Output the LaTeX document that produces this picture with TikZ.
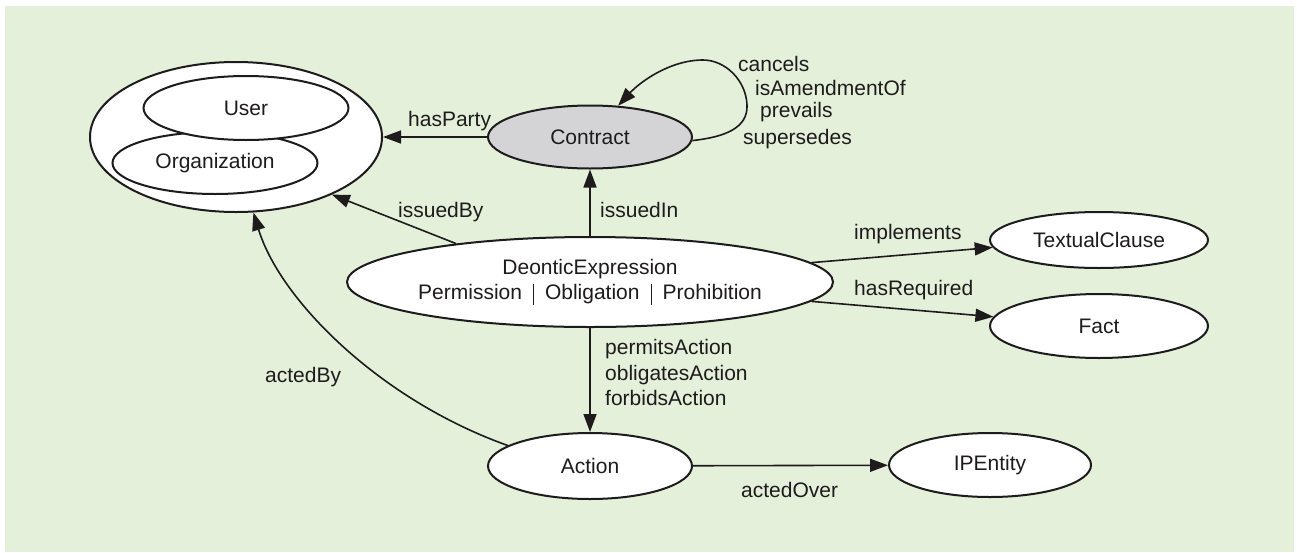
\documentclass[tikz,border=0pt]{standalone}
\usepackage{fontspec}
\setmainfont{Liberation Sans}
\usetikzlibrary{shapes.geometric,arrows.meta}
\definecolor{bgreen}{RGB}{228,240,218}
\definecolor{cgray}{RGB}{212,212,214}
\definecolor{ink}{RGB}{30,27,28}
\begin{document}
\begin{tikzpicture}[x=1pt,y=-1pt,
  font=\fontsize{21}{25}\selectfont, color=ink,
  ent/.style={ellipse, draw=ink, line width=2pt, fill=white, inner sep=0pt, text=ink, align=center},
  rel/.style={draw=ink, line width=1.6pt, -{Triangle[length=18pt,width=13pt]}},
  lbl/.style={inner sep=0pt, anchor=base west, text=ink, align=left}]
\useasboundingbox (0,0) rectangle (1297,552);
\fill[bgreen] (5,6) rectangle (1294,552);

% nodes
\node[ent, minimum width=292pt, minimum height=150pt] (party) at (236,137) {};
\node[ent, minimum width=205pt, minimum height=62pt] (org) at (215,163) {Organization};
\node[ent, minimum width=205pt, minimum height=64pt] (user) at (246,108) {User};
\node[ent, fill=cgray, minimum width=204pt, minimum height=63pt] (contract) at (590,137) {Contract};
\node[ent, minimum width=481pt, minimum height=90pt] (de) at (590,282)
  {DeonticExpression\\Permission\hspace{11pt}\rule[-5pt]{1pt}{21pt}\hspace{11pt}Obligation\hspace{11pt}\rule[-5pt]{1pt}{21pt}\hspace{11pt}Prohibition};
\node[ent, minimum width=218pt, minimum height=56pt] (tc) at (1099,240) {TextualClause};
\node[ent, minimum width=218pt, minimum height=64pt] (fact) at (1099,326) {Fact};
\node[ent, minimum width=204pt, minimum height=66pt] (action) at (590,466) {Action};
\node[ent, minimum width=202pt, minimum height=64pt] (ipe) at (990,465) {IPEntity};

% loop helper coordinates
\coordinate (l1) at (747,105);
\coordinate (l2) at (703,60);

% connectors
\draw[rel] (contract) -- (party);
\draw[rel] (contract.358) .. controls (725,137) and (748,128) .. (l1)
  .. controls (746,80) and (725,60) .. (l2)
  .. controls (670,60) and (640,82) .. (contract.48);
\draw[rel] (de) -- (contract);
\draw[rel] (de.164) -- (party.329);
\draw[rel] (de.5) -- (tc.184);
\draw[rel] (de.355) -- (fact.175);
\draw[rel] (de) -- (action);
\draw[rel] (action.166) .. controls (380,400) and (280,300) .. (party.283);
\draw[rel] (action) -- (ipe);

% labels
\node[lbl] (hasparty) at (408,126) {hasParty};
\node[lbl] (cancels) at (738,71) {cancels};
\node[lbl] (isamend) at (755,95) {isAmendmentOf};
\node[lbl] (prevails) at (760,117) {prevails};
\node[lbl] (supersedes) at (743,144) {supersedes};
\node[lbl] (issuedby) at (398,217) {issuedBy};
\node[lbl] (issuedin) at (600,217) {issuedIn};
\node[lbl] (implements) at (854,239) {implements};
\node[lbl] (hasrequired) at (854,295) {hasRequired};
\node[lbl] (permits) at (605,354) {permitsAction};
\node[lbl] (obligates) at (605,380) {obligatesAction};
\node[lbl] (forbids) at (605,405) {forbidsAction};
\node[lbl] (actedby) at (265,382) {actedBy};
\node[lbl] (actedover) at (741,497) {actedOver};
\end{tikzpicture}
\end{document}
